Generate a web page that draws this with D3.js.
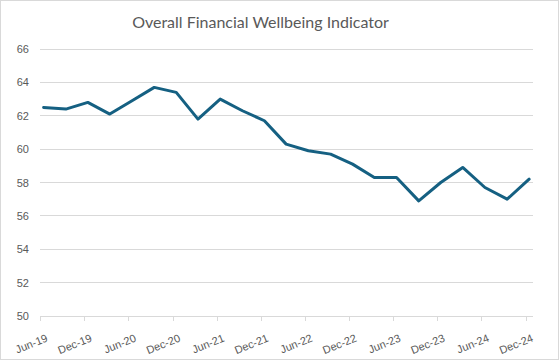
<!DOCTYPE html>
<html>
<head>
<meta charset="utf-8">
<script src="https://cdn.jsdelivr.net/npm/d3@7"></script>
<style>
  html, body { margin: 0; padding: 0; background: #fff; }
  svg { display: block; }
</style>
</head>
<body>
<svg id="chart" width="559" height="360"></svg>
<script>
const title = "Overall Financial Wellbeing Indicator";
const periods = ["2019-06","2019-09","2019-12","2020-03","2020-06","2020-09","2020-12","2021-03","2021-06","2021-09","2021-12","2022-03","2022-06","2022-09","2022-12","2023-03","2023-06","2023-09","2023-12","2024-03","2024-06","2024-09","2024-12"];
const values = [62.5,62.4,62.8,62.1,62.9,63.7,63.4,61.8,63.0,62.3,61.7,60.3,59.9,59.7,59.1,58.3,58.3,56.9,58.0,58.9,57.7,57.0,58.2];
const yTicks = [50,52,54,56,58,60,62,64,66];
const xTickLabels = ["Jun-19","Dec-19","Jun-20","Dec-20","Jun-21","Dec-21","Jun-22","Dec-22","Jun-23","Dec-23","Jun-24","Dec-24"];

const W = 559, H = 360;
const margin = {left: 40, right: 26, top: 49, bottom: 44};
const svg = d3.select("#chart");

svg.append("rect").attr("x",0.5).attr("y",0.5).attr("width",W-1).attr("height",H-1)
  .attr("fill","#fff").attr("stroke","#d9d9d9");

const parse = d3.timeParse("%Y-%m");
const monthMid = p => { const d = parse(p); return new Date(d.getFullYear(), d.getMonth(), 16); };
const tickDate = l => d3.timeParse("%b-%y")(l);

const x = d3.scaleTime()
  .domain([parse("2019-06"), parse("2025-01")])
  .range([margin.left, W - margin.right]);
const y = d3.scaleLinear().domain([50,66]).range([H - margin.bottom, margin.top]);

// gridlines
svg.append("g")
  .selectAll("line").data(yTicks.slice(1)).join("line")
  .attr("x1", margin.left).attr("x2", W - margin.right)
  .attr("y1", d => y(d)).attr("y2", d => y(d))
  .attr("stroke","#d9d9d9").attr("stroke-width",1).attr("shape-rendering","crispEdges");

// y axis labels
const yAxis = d3.axisLeft(y).tickValues(yTicks).tickSize(0).tickPadding(11);
const gy = svg.append("g").attr("transform",`translate(${margin.left},0)`).call(yAxis);
gy.select(".domain").remove();
gy.selectAll("text").attr("fill","#595959").attr("font-family","'Liberation Sans', Arial, sans-serif").attr("font-size","11px");

// x axis
const xAxis = d3.axisBottom(x).tickValues(xTickLabels.map(tickDate)).tickSize(5)
  .tickFormat((d,i) => xTickLabels[i]);
const gx = svg.append("g").attr("transform",`translate(0,${y(50)})`).call(xAxis);
gx.select(".domain").attr("d", `M${margin.left},0.5H${W - margin.right}`).attr("stroke","#d9d9d9").attr("shape-rendering","crispEdges");
gx.selectAll(".tick line").attr("stroke","#d9d9d9").attr("shape-rendering","crispEdges");
gx.selectAll(".tick text")
  .attr("fill","#595959").attr("font-family","'Liberation Sans', Arial, sans-serif").attr("font-size","11px")
  .attr("text-anchor","end").attr("dy",null).attr("y",null)
  .attr("transform","translate(8,25) rotate(-22)");

// line
const line = d3.line().x((d,i) => x(monthMid(periods[i]))).y(d => y(d));
svg.append("path").datum(values)
  .attr("d", line)
  .attr("fill","none").attr("stroke","#156082").attr("stroke-width",3)
  .attr("stroke-linejoin","round").attr("stroke-linecap","round");

// title
svg.append("text").attr("x",260.5).attr("y",28).attr("text-anchor","middle")
  .attr("fill","#595959").attr("font-family","Lato, 'Open Sans', sans-serif").attr("font-size","16px")
  .text(title);
</script>
</body>
</html>
